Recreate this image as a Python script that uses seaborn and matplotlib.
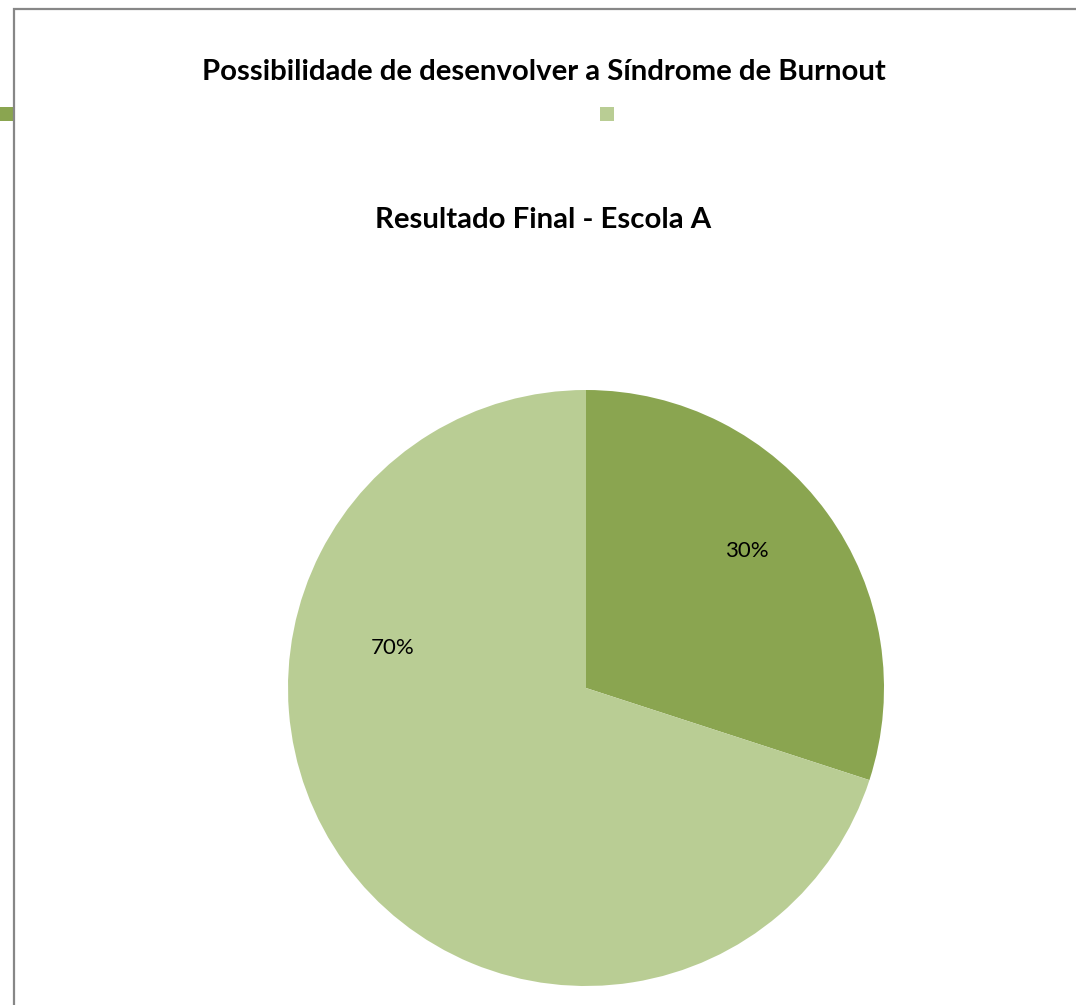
import matplotlib
matplotlib.use("Agg")
import matplotlib.pyplot as plt
import seaborn as sns
from matplotlib.patches import Rectangle

sns.set_theme(style="white")
plt.rcParams['font.family'] = ['Lato', 'DejaVu Sans']

categories = ["Sim", "Não"]
values = [30, 70]
colors = ["#8AA550", "#B9CD94"]
main_title = "Possibilidade de desenvolver a Síndrome de Burnout"
sub_title = "Resultado Final - Escola A"

W, H = 1076, 1005
fig = plt.figure(figsize=(W / 100, H / 100), dpi=100)
fig.patch.set_facecolor("white")

cx, cy, r = 586, 688, 298
ax = fig.add_axes([(cx - r) / W, (H - cy - r) / H, 2 * r / W, 2 * r / H])
wedges, texts = ax.pie(values, colors=colors, startangle=90, counterclock=False,
                       radius=1, wedgeprops=dict(linewidth=0))
ax.set_xlim(-1, 1)
ax.set_ylim(-1, 1)
ax.set_aspect("equal")
ax.axis("off")

label_pos = [(0.54, 0.46), (-0.648, 0.134)]
for v, (x, y) in zip(values, label_pos):
    ax.text(x, y, f"{v}%", ha="center", va="center", fontsize=16, color="black")

fig.text(544 / W, 1 - 72 / H, main_title, ha="center", va="center",
         fontsize=21.2, fontweight="bold", color="black")
fig.text(543 / W, 1 - 220 / H, sub_title, ha="center", va="center",
         fontsize=21.2, fontweight="bold", color="black")

# legend markers
fig.add_artist(Rectangle((-1 / W, 1 - 121 / H), 14 / W, 14 / H,
                         transform=fig.transFigure, color=colors[0], lw=0))
fig.add_artist(Rectangle((600 / W, 1 - 121 / H), 14 / W, 14 / H,
                         transform=fig.transFigure, color=colors[1], lw=0))

# chart border
fig.add_artist(Rectangle((14 / W, -0.05), 1.2, 1 - 8.5 / H + 0.05,
                         transform=fig.transFigure, fill=False,
                         edgecolor="#878787", lw=1.6))

fig.savefig("out.png", dpi=100, facecolor="white")
